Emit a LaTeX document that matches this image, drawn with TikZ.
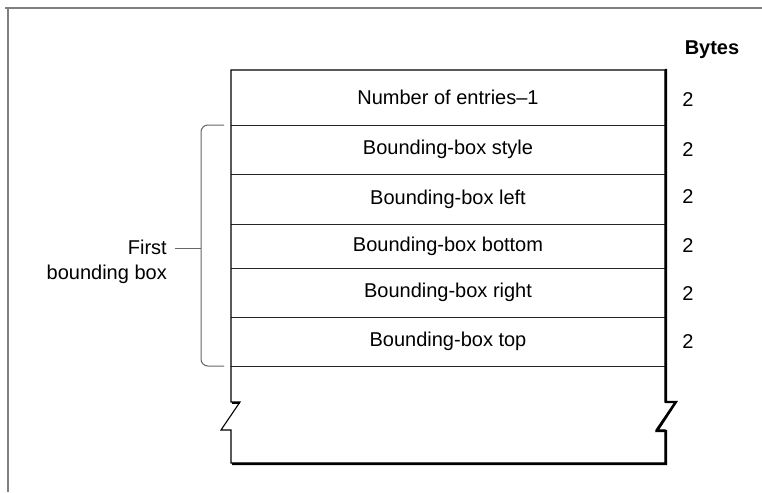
\documentclass[tikz,border=0pt]{standalone}
\usepackage{fontspec}
\setmainfont{Liberation Sans}
\begin{document}
\begin{tikzpicture}[x=1pt,y=-1pt,
  lbl/.style={inner sep=0pt,font=\fontsize{20}{25}\selectfont},
  rowbox/.style={minimum width=434pt,inner sep=0pt,font=\fontsize{20}{25}\selectfont},
  rowline/.style={line width=0.9pt,black!85},
  frameline/.style={line width=1.4pt,black!50},
  bracketline/.style={line width=1pt,black!60,rounded corners=7pt},
  outline/.style={line width=1.1pt,black},
  shadowline/.style={line width=2.2pt,black}]
\useasboundingbox (0,0) rectangle (762,492);
% page frame
\coordinate (ftr) at (762,8);
\coordinate (ftl) at (5,8);
\coordinate (fbl) at (8,492);
\draw[frameline] (ftr) -- (ftl);
\draw[frameline] (8,8) -- (fbl);
% rows
\node[rowbox,minimum height=55pt] (r1) at (448,97.5) {Number of entries\textendash1};
\node[rowbox,minimum height=49pt] (r2) at (448,149.5) {Bounding-box style};
\node[rowbox,minimum height=50pt] (r3) at (448,199) {Bounding-box left};
\node[rowbox,minimum height=44pt] (r4) at (448,246) {Bounding-box bottom};
\node[rowbox,minimum height=49pt] (r5) at (448,292.5) {Bounding-box right};
\node[rowbox,minimum height=49pt] (r6) at (448,341.5) {Bounding-box top};
\draw[rowline] (r1.south west) -- (r1.south east);
\draw[rowline] (r2.south west) -- (r2.south east);
\draw[rowline] (r3.south west) -- (r3.south east);
\draw[rowline] (r4.south west) -- (r4.south east);
\draw[rowline] (r5.south west) -- (r5.south east);
\draw[rowline] (r6.south west) -- (r6.south east);
% outline with breaks
\coordinate (tl) at (231,70);
\coordinate (tr) at (665,70);
\coordinate (bl) at (231,463);
\coordinate (br) at (665,463);
\draw[shadowline] ([xshift=1pt,yshift=1pt]tr) -- (666,402) -- (676,402) -- (657,431) -- (666,431) -- (666,464) -- (232,464);
\draw[shadowline] (232,403) -- (240,403);
\draw[outline] (tl) -- (231,402) -- (240,402) -- (221,430) -- (231,430) -- (bl) -- (br) -- (665,430) -- (656,430) -- (675,402) -- (665,402) -- (tr) -- cycle;
% byte counts
\node[lbl,font=\fontsize{20}{25}\selectfont\bfseries] (bytes) at (712,50) {Bytes};
\node[lbl] (b1) at (688,100) {2};
\node[lbl] (b2) at (688,149.5) {2};
\node[lbl] (b3) at (688,197) {2};
\node[lbl] (b4) at (688,246) {2};
\node[lbl] (b5) at (688,294) {2};
\node[lbl] (b6) at (688,341.5) {2};
% bracket
\coordinate (brt) at (224,125);
\coordinate (brb) at (224,366);
\coordinate (brm) at (201,248);
\draw[bracketline] (brt) -- (201,125) -- (201,366) -- (brb);
\node[lbl,align=right,anchor=east] (first) at (167,262) {First\\bounding box};
\coordinate (tickend) at (175,248);
\draw[line width=1pt,black!60] (brm) -- (tickend);
\end{tikzpicture}
\end{document}
